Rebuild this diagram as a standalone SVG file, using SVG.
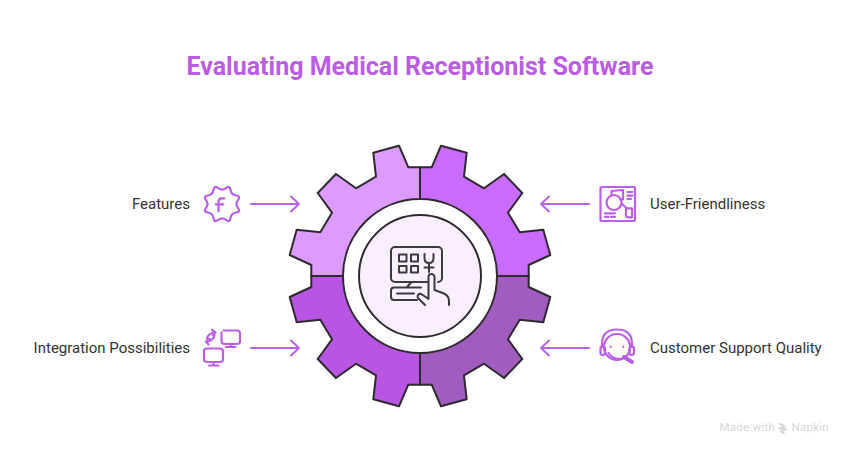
<svg xmlns="http://www.w3.org/2000/svg" width="852" height="456" viewBox="0 0 852 456">
<style>
text{font-family:Roboto,"Liberation Sans",sans-serif}
.label{font-size:15px;fill:#333}
.seg{stroke:#2e2a30;stroke-width:2;stroke-linejoin:round}
.ic{fill:none;stroke:#bb5fe6;stroke-width:2.200;stroke-linecap:round;stroke-linejoin:round}
.dk{fill:none;stroke:#3a3a3a;stroke-width:2;stroke-linecap:round;stroke-linejoin:round}
.arr{fill:none;stroke:#bb5fe6;stroke-width:1.800;stroke-linecap:round;stroke-linejoin:round}
</style>
<rect width="852" height="456" fill="#fff"/>
<text x="420" y="75" text-anchor="middle" font-size="25" font-weight="700" fill="#bb5ce6">Evaluating Medical Receptionist Software</text>
<g id="gear">
<path id="seg-tl" class="seg" fill="#dd9bff" d="M420 167.300L408.300 167.300L399 145.700L373.300 152.700L376 176.700L356 188.300L336 174L317.700 193L332 212.700L320.300 232.300L296.700 229.700L289.700 255L311.300 265L311.300 276L343 276A77 77 0 0 1 420 199Z"/>
<path id="seg-tr" class="seg" fill="#c96bfc" d="M420 167.300L431.700 167.300L441 145.700L466.700 152.700L464 176.700L484 188.300L504 174L522.300 193L508 212.700L519.700 232.300L543.300 229.700L550.300 255L528.700 265L528.700 276L497 276A77 77 0 0 0 420 199Z"/>
<path id="seg-bl" class="seg" fill="#b856e3" d="M420 384.700L408.300 384.700L399 406.300L373.300 399.300L376 375.300L356 363.700L336 378L317.700 359L332 339.300L320.300 319.700L296.700 322.300L289.700 297L311.300 287L311.300 276L343 276A77 77 0 0 0 420 353Z"/>
<path id="seg-br" class="seg" fill="#a05cbe" d="M420 384.700L431.700 384.700L441 406.300L466.700 399.300L464 375.300L484 363.700L504 378L522.300 359L508 339.300L519.700 319.700L543.300 322.300L550.300 297L528.700 287L528.700 276L497 276A77 77 0 0 1 420 353Z"/>
<circle cx="420" cy="276" r="61" fill="#faefff" stroke="#2e2a30" stroke-width="2"/>
</g>
<g id="center-icon">
<path class="dk" d="M428 282H395A4 4 0 0 1 391 278V251A4 4 0 0 1 395 247H438A4 4 0 0 1 442 251V278A4 4 0 0 1 438 282"/>
<path class="dk" d="M399 254.500h7.500v7h-7.500zM411 254.500h7v7h-7zM399 266h7.500v6.500h-7.500zM411 266h7v6.500h-7z"/>
<path class="dk" d="M424.500 254V258Q424.500 263 429 263Q433.500 263 433.500 258V254M429 263V272M424.500 267.500H433.500"/>
<path class="dk" d="M406.500 287.500L411.500 282M421 287.500H394A3 3 0 0 0 391 290.500V297A3 3 0 0 0 394 300H417M397 293.500H414"/>
<path class="dk" d="M425 305L418.500 298.500A2.500 2.500 0 0 1 422 294.500L428.500 299V277A3 3 0 0 1 434.500 277V290L444 293.500Q449 296 449 301V305"/>
</g>
<g id="connectors">
<path class="arr" d="M251 204H299M291 196.500L299 204L291 211.500"/>
<path class="arr" d="M589 204H541M549 196.500L541 204L549 211.500"/>
<path class="arr" d="M251 348H299M291 340.500L299 348L291 355.500"/>
<path class="arr" d="M589 348H541M549 340.500L541 348L549 355.500"/>
</g>
<g id="features">
<text class="label" x="190" y="209" text-anchor="end">Features</text>
<path class="ic" d="M237.970 207.920Q240.940 211.840 236.070 212.520T230.520 218.070T225.920 219.970T218.080 219.970T213.480 218.070T207.930 212.520T206.030 207.920T206.030 200.080T207.930 195.480T213.480 189.930T218.080 188.030T225.920 188.030T230.520 189.930T236.070 195.480T237.970 200.080T237.970 207.920Z"/>
<path class="ic" d="M224.300 198.300H222Q218.500 198.300 218.500 202V211.500M215.800 204.300H223.300"/>
</g>
<g id="integration">
<text class="label" x="190" y="353" text-anchor="end">Integration Possibilities</text>
<path class="ic" d="M223.500 330.500H237A3 3 0 0 1 240 333.500V341A3 3 0 0 1 237 344H224.500A3 3 0 0 1 221.500 341V332.500M226 347H235.500M230.700 344V347"/>
<path class="ic" d="M207 348.500H220A3 3 0 0 1 223 351.500V359A3 3 0 0 1 220 362H207A3 3 0 0 1 204 359V351.500A3 3 0 0 1 207 348.500ZM209 365.500H218.500M213.500 362V365.500"/>
<path class="ic" d="M207 338.500Q208 333.500 215 332.500M212 330L215.500 332.500L213 335.500M214.500 335.500Q213.500 340.500 206.500 341.500M209.500 339L206 341.500L208.500 344.500"/>
</g>
<g id="user-friendliness">
<text class="label" x="650" y="209">User-Friendliness</text>
<rect class="ic" x="600.500" y="187" width="34.500" height="34" rx="1.500"/>
<circle class="ic" cx="614" cy="202.500" r="7.500"/>
<path class="ic" d="M611.500 195V191L623 190V199.500L620.500 199.500M622 204L626.500 208M626 208.300H632V217.300H628A2 2 0 0 1 626 215.300ZM627.500 192H632.500M627.500 195.700H632.500M627.500 199H631M605 213.300H615M605 216.800H608.500M611 216.800H615"/>
</g>
<g id="customer-support">
<text class="label" x="650" y="353">Customer Support Quality</text>
<circle class="ic" cx="617" cy="347" r="13"/>
<path class="ic" d="M602 347V344Q602 329.500 617 329.500Q632 329.500 632 344V347"/>
<rect class="ic" x="600.500" y="346.500" width="4.500" height="8.500" rx="2.200"/>
<rect class="ic" x="629.500" y="346.500" width="4.500" height="8.500" rx="2.200"/>
<path class="ic" d="M610.700 346.700V346.800M623.300 346.700V346.800M608.500 353Q613 360 622 358.500"/>
<path d="M624 357L632 362" fill="none" stroke="#bb5fe6" stroke-width="4" stroke-linecap="round"/>
</g>
<g id="watermark">
<text x="719.500" y="431" font-size="11.500" letter-spacing=".25" fill="#d6d6d6">Made with</text>
<path d="M779 423.500L785 426.500L779 428.500L786.500 429L780.500 431.500L784.500 433.500" fill="none" stroke="#d2d2d2" stroke-width="1.600" stroke-linejoin="round"/>
<text x="791.500" y="431" font-size="11.500" letter-spacing=".25" fill="#d6d6d6">Napkin</text>
</g>
</svg>
